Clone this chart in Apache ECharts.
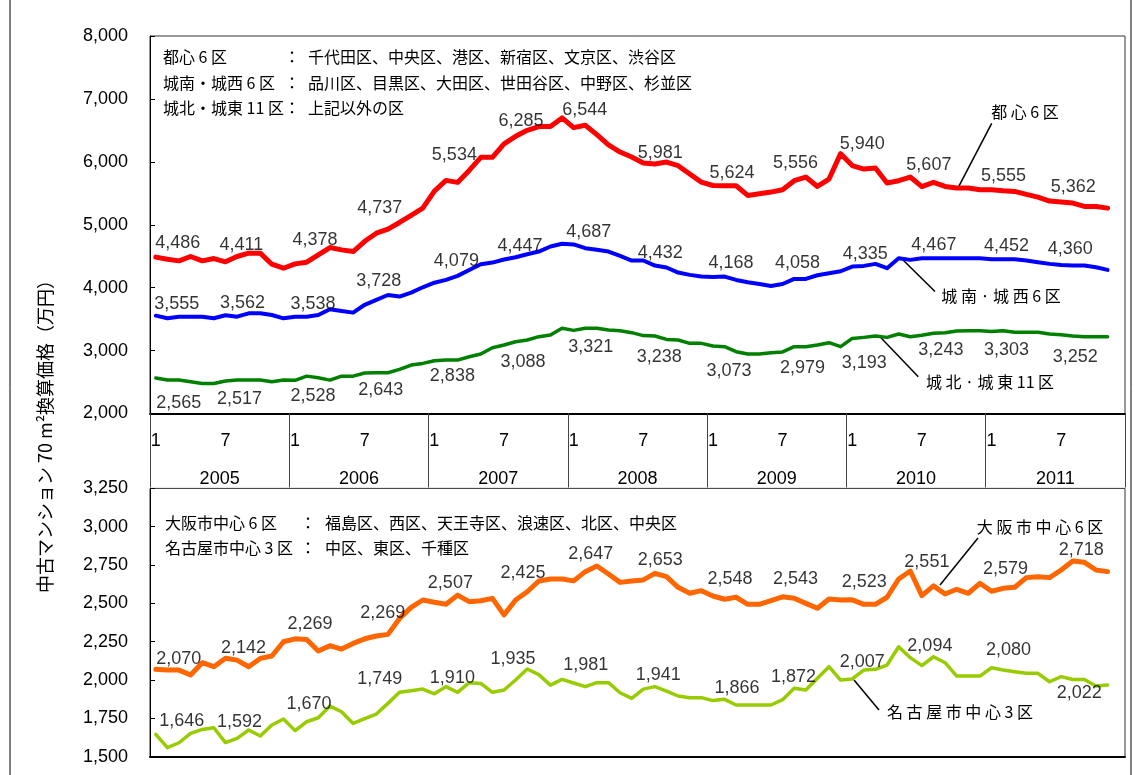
<!DOCTYPE html>
<html><head><meta charset="utf-8">
<script src="https://cdn.jsdelivr.net/npm/echarts@6/dist/echarts.min.js"></script>
<style>html,body{margin:0;padding:0;background:#fff}#c{width:1136px;height:775px}</style>
</head><body><div id="c"></div>
<script>
// ---------- data ----------
const years = ['2005','2006','2007','2008','2009','2010','2011'];
const months = [];
years.forEach(y => { for (let m = 1; m <= 12; m++) months.push(y + '/' + m); });
const monthTickLabels = {0: '1', 6: '7'};

// 都心6区 (2005/1 - 2011/11)
const toshin6 = [4486,4452,4426,4495,4426,4463,4411,4495,4548,4548,4373,4309,
  4378,4405,4521,4638,4601,4574,4737,4866,4930,5036,5150,5264,
  5534,5705,5673,5864,6071,6071,6285,6406,6501,6560,6560,6698,
  6544,6581,6432,6268,6156,6077,5981,5965,5997,5939,5806,5678,
  5624,5620,5620,5466,5493,5519,5556,5700,5758,5609,5726,6130,
  5940,5885,5901,5663,5700,5758,5607,5673,5609,5583,5583,5556,
  5555,5540,5530,5482,5440,5376,5362,5344,5291,5291,5264];
// 城南・城西6区
const jonanJosai6 = [3555,3513,3539,3539,3539,3513,3562,3539,3592,3592,3566,3513,
  3538,3539,3566,3656,3630,3603,3728,3805,3884,3858,3922,4006,
  4079,4123,4187,4282,4373,4399,4447,4484,4532,4574,4654,4697,
  4687,4627,4601,4574,4505,4431,4432,4351,4320,4240,4203,4176,
  4168,4176,4123,4086,4059,4028,4058,4139,4139,4197,4229,4261,
  4335,4346,4378,4309,4468,4442,4467,4467,4467,4467,4467,4467,
  4452,4452,4452,4431,4405,4378,4360,4352,4352,4325,4282];
// 城北・城東11区
const johokuJoto11 = [2565,2531,2531,2504,2478,2478,2517,2531,2531,2531,2504,2531,
  2528,2594,2568,2531,2594,2594,2643,2648,2648,2701,2770,2796,
  2838,2849,2849,2902,2945,3046,3088,3141,3168,3221,3247,3354,
  3321,3354,3354,3327,3316,3285,3238,3231,3178,3168,3115,3115,
  3073,3062,2982,2945,2945,2966,2979,3062,3062,3088,3125,3062,
  3193,3210,3231,3210,3263,3221,3243,3274,3285,3311,3316,3316,
  3303,3316,3290,3290,3290,3263,3252,3231,3221,3221,3221];
// 大阪市中心6区
const osaka6 = [2070,2065,2065,2033,2113,2087,2142,2130,2087,2141,2157,2250,
  2269,2265,2189,2224,2202,2239,2269,2287,2298,2402,2474,2522,
  2507,2494,2554,2511,2517,2533,2425,2522,2576,2646,2659,2659,
  2647,2707,2744,2692,2637,2646,2653,2696,2674,2605,2566,2583,
  2548,2527,2540,2494,2494,2518,2543,2533,2500,2468,2529,2522,
  2523,2494,2494,2540,2659,2711,2551,2614,2561,2592,2566,2631,
  2579,2598,2605,2668,2674,2668,2718,2777,2768,2718,2707];
// 名古屋市中心3区
const nagoya3 = [1646,1559,1591,1652,1678,1689,1592,1620,1674,1635,1707,1746,
  1670,1728,1754,1830,1793,1717,1749,1778,1848,1920,1930,1941,
  1910,1957,1920,1983,1978,1920,1935,2000,2072,2035,1967,2004,
  1981,1957,1983,1983,1917,1880,1941,1957,1928,1896,1885,1885,
  1866,1874,1837,1837,1837,1837,1872,1946,1935,2011,2087,2000,
  2007,2065,2070,2098,2217,2146,2094,2152,2113,2026,2026,2026,
  2080,2065,2054,2044,2044,1989,2022,2004,2004,1961,1967];

// months that carry a value label (January and July)
const labelMonths = [0,6,12,18,24,30,36,42,48,54,60,66,72,78];

// ---------- layout (label nudges in px, not data) ----------
const offToshin = [[22,-14],[16,-17],[20,-24],[15,-33],[20,-36],[17,-23],[11,-18],[17,-10],[19,-12],[13,-27],[10,-22],[7,-22],[12,-14],[12,-15]];
const offJonan  = [[21,-12],[17,-12],[18,-13],[14,-24],[22,-22],[16,-14],[15,-12],[17,-7],[18,-14],[15,-21],[13,-13],[12,-13],[15,-13],[9,-16]];
const offJohoku = [[23,25],[14,18],[18,16],[16,17],[18,15],[19,17],[17,17],[16,21],[16,25],[20,16],[12,25],[19,15],[15,19],[14,22]];
const offOsaka  = [[23,-10],[18,-10],[15,-15],[18,-26],[16,-19],[19,-42],[17,-27],[17,-20],[17,-17],[13,-18],[12,-18],[5,-34],[14,-22],[20,-20]];
const offNagoya = [[26,-13],[14,-21],[14,-27],[15,-39],[18,-16],[9,-31],[12,-18],[15,-14],[24,-13],[11,-23],[10,-17],[8,-20],[17,-18],[18,16]];

const NUM_FONT = '"Liberation Sans", Arial, sans-serif';
const JP_FONT = '"Noto Sans CJK JP", "Noto Sans", sans-serif';
const fmt = v => String(v).replace(/\B(?=(\d{3})+(?!\d))/g, ',');

function lineSeries(data, color, width, xi, yi) {
  return {type: 'line', xAxisIndex: xi, yAxisIndex: yi, data: data, symbol: 'none',
    lineStyle: {color: color, width: width, cap: 'round', join: 'round'}, itemStyle: {color: color}, z: 3, silent: true};
}
function labelSeries(data, offs, xi, yi) {
  return {type: 'scatter', xAxisIndex: xi, yAxisIndex: yi, symbolSize: 1, silent: true, z: 5,
    itemStyle: {color: 'rgba(0,0,0,0)'},
    data: labelMonths.map((m, k) => ({value: [m, data[m]],
      label: {show: true, position: 'inside', offset: offs[k], formatter: fmt(data[m]),
        color: '#000', fontSize: 18, fontFamily: NUM_FONT}}))};
}

const chart = echarts.init(document.getElementById('c'), null, {renderer: 'canvas'});

function txt(x, y, text, size, align, extra) {
  return Object.assign({type: 'text', x: x, y: y, silent: true,
    style: {text: text, fill: '#000', font: size + 'px ' + JP_FONT, textAlign: align || 'left', textVerticalAlign: 'middle'}}, extra || {});
}
function seg(x1, y1, x2, y2) {
  return {type: 'line', silent: true, shape: {x1: x1, y1: y1, x2: x2, y2: y2}, style: {stroke: '#000', lineWidth: 1.5}};
}

const option = {
  animation: false,
  backgroundColor: '#fff',
  grid: [
    {left: 150, top: 36, width: 975, height: 377.5, show: true, borderColor: '#333', borderWidth: 1, backgroundColor: 'transparent'},
    {left: 150, top: 488.4, width: 975, height: 268.3, show: true, borderColor: '#333', borderWidth: 1, backgroundColor: 'transparent'}
  ],
  xAxis: [
    {type: 'category', gridIndex: 0, data: months, boundaryGap: true, position: 'bottom',
      axisLine: {lineStyle: {color: '#000', width: 2}}, axisTick: {show: false},
      axisLabel: {interval: 0, margin: 19, color: '#000', fontSize: 18, fontFamily: NUM_FONT,
        formatter: (v, i) => monthTickLabels[i % 12] || ''}},
    {type: 'category', gridIndex: 0, data: years, boundaryGap: true, position: 'bottom',
      axisLine: {show: false},
      axisTick: {show: true, interval: 0, length: 74, lineStyle: {color: '#444', width: 1}},
      axisLabel: {interval: 0, margin: 57, color: '#000', fontSize: 18, fontFamily: NUM_FONT}},
    {type: 'category', gridIndex: 1, data: months, boundaryGap: true, position: 'bottom',
      axisLine: {lineStyle: {color: '#000', width: 2}}, axisTick: {show: false}, axisLabel: {show: false}}
  ],
  yAxis: [
    {type: 'value', gridIndex: 0, min: 2000, max: 8000, interval: 1000,
      axisLine: {show: true, lineStyle: {color: '#000', width: 1}},
      axisTick: {show: true, inside: true, length: 5, lineStyle: {color: '#000'}},
      splitLine: {show: false},
      axisLabel: {formatter: v => fmt(v), color: '#000', fontSize: 18, fontFamily: NUM_FONT, margin: 22}},
    {type: 'value', gridIndex: 1, min: 1500, max: 3250, interval: 250,
      axisLine: {show: true, lineStyle: {color: '#000', width: 1}},
      axisTick: {show: true, inside: true, length: 5, lineStyle: {color: '#000'}},
      splitLine: {show: false},
      axisLabel: {formatter: v => fmt(v), color: '#000', fontSize: 18, fontFamily: NUM_FONT, margin: 22}}
  ],
  series: [
    lineSeries(johokuJoto11, '#008000', 3.5, 0, 0),
    lineSeries(jonanJosai6, '#0000ff', 4, 0, 0),
    lineSeries(toshin6, '#ff0000', 5, 0, 0),
    lineSeries(nagoya3, '#99cc00', 3.5, 2, 1),
    lineSeries(osaka6, '#ff6600', 5, 2, 1),
    labelSeries(toshin6, offToshin, 0, 0),
    labelSeries(jonanJosai6, offJonan, 0, 0),
    labelSeries(johokuJoto11, offJohoku, 0, 0),
    labelSeries(osaka6, offOsaka, 2, 1),
    labelSeries(nagoya3, offNagoya, 2, 1)
  ],
  graphic: {elements: [
    {type: 'rect', silent: true, shape: {x: 10, y: -5, width: 1121, height: 790}, style: {fill: 'none', stroke: '#000', lineWidth: 1}},
    {type: 'text', x: 45, y: 432, rotation: Math.PI / 2, silent: true,
      style: {text: '中古マンション 70 m²換算価格（万円）', fill: '#000', font: '18px ' + JP_FONT, textAlign: 'center', textVerticalAlign: 'middle'}},
    // top annotation
    txt(163, 57, '都心 6 区', 16), txt(292, 57, '：', 16, 'center'), txt(308, 57, '千代田区、中央区、港区、新宿区、文京区、渋谷区', 16),
    txt(163, 83, '城南・城西 6 区', 16), txt(292, 83, '：', 16, 'center'), txt(308, 83, '品川区、目黒区、大田区、世田谷区、中野区、杉並区', 16),
    txt(163, 108, '城北・城東 11 区', 16), txt(292, 108, '：', 16, 'center'), txt(308, 108, '上記以外の区', 16),
    // bottom annotation
    txt(165, 523, '大阪市中心 6 区', 16), txt(308, 523, '：', 16, 'center'), txt(325, 523, '福島区、西区、天王寺区、浪速区、北区、中央区', 16),
    txt(165, 548, '名古屋市中心 3 区', 16), txt(308, 548, '：', 16, 'center'), txt(325, 548, '中区、東区、千種区', 16),
    // series callouts
    txt(1025, 112, '都 心 6 区', 16, 'center'), seg(991.7, 123.3, 958.3, 187.3),
    txt(1001, 296, '城 南 · 城 西 6 区', 16, 'center'), seg(903, 260, 935, 291.5),
    txt(990, 382, '城 北 · 城 東 11 区', 16, 'center'), seg(880, 336.7, 918.3, 376.7),
    txt(1040, 527, '大 阪 市 中 心 6 区', 16, 'center'), seg(978, 538, 940, 585),
    txt(960, 712, '名 古 屋 市 中 心 3 区', 16, 'center'), seg(854, 680, 879, 710)
  ]}
};
chart.setOption(option);
</script>
</body></html>
